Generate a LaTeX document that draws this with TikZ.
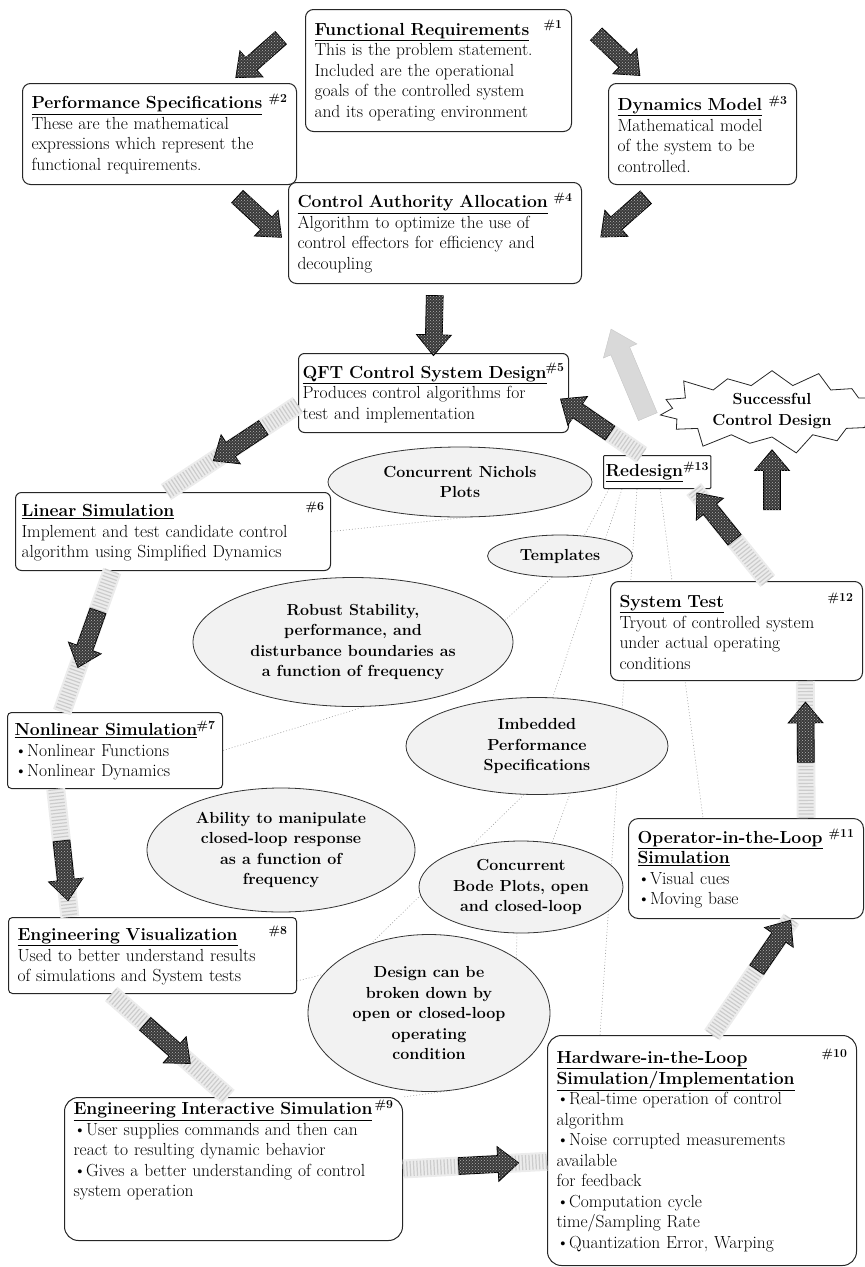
\documentclass[tikz,border=0pt]{standalone}
\usepackage{fontspec}
\usetikzlibrary{calc,shapes.geometric,shapes.arrows,shapes.symbols,patterns,backgrounds}
\newcommand*{\txtsize}{\fontsize{17.5}{20.5}\selectfont}
\newcommand*{\ovlsize}{\fontsize{16}{20.5}\selectfont\bfseries}
\newcommand*{\boxtitle}[2]{\underline{\textbf{#1}}\hfill\makebox[0pt][r]{\textsuperscript{\textbf{\##2}}}}
\tikzset{
  stage/.style={draw=black!85, line width=1pt, rounded corners=8pt, fill=white, anchor=north west,
    align=left, inner xsep=9pt, inner ysep=0pt, font=\txtsize},
  feature/.style={ellipse, draw=black!80, line width=0.8pt, fill=gray!10, inner sep=0pt, align=center, font=\ovlsize},
  burst/.style={starburst, starburst points=15, starburst point height=20pt, draw=black!85, line width=0.8pt,
    fill=white, minimum width=240pt, minimum height=92pt, align=center, font=\ovlsize, inner sep=0pt},
  blockarrow/.style={single arrow, draw=black, line width=0.8pt, fill=gray!45!black,
    postaction={pattern=crosshatch dots, pattern color=gray!60}, minimum height=60pt, minimum width=34pt,
    single arrow head extend=9pt, single arrow tip angle=80, inner xsep=0pt, inner ysep=8pt, sloped, allow upside down},
  exitarrow/.style={single arrow, draw=gray!45, fill=gray!30, minimum height=95pt, minimum width=36pt,
    single arrow head extend=8pt, single arrow tip angle=75, inner xsep=0pt, inner ysep=10pt},
  loopband/.style={draw=gray!15, line width=19pt, postaction={draw=gray!40, line width=15pt, dash pattern=on 1.2pt off 2.2pt}},
  relation/.style={draw=gray!70, line width=0.6pt, dash pattern=on 1pt off 2pt}
}

\begin{document}
\begin{tikzpicture}[x=1pt, y=-1pt]
    \useasboundingbox (0,0) rectangle (865,1267);
    % design steps
    \node[stage, text width=248pt, minimum height=122pt] (fr) at (305,9) {\boxtitle{Functional Requirements}{1}\\This is the problem statement.\\Included are the operational\\goals of the controlled system\\and its operating environment};
    \node[stage, text width=256pt, minimum height=101pt] (ps) at (22,83) {\boxtitle{Performance Specifications}{2}\\These are the mathematical\\expressions which represent the\\functional requirements.};
    \node[stage, text width=170pt, minimum height=101pt] (dm) at (608,83) {\boxtitle{Dynamics Model}{3}\\Mathematical model\\of the system to be\\controlled.};
    \node[stage, text width=275pt, minimum height=101pt] (caa) at (288,182) {\boxtitle{Control Authority Allocation}{4}\\Algorithm to optimize the use of\\control effectors for efficiency and\\decoupling};
    \node[stage, inner xsep=4pt, text width=262pt, minimum height=79pt, rounded corners=6pt] (qft) at (298,353) {\boxtitle{QFT Control System Design}{5}\\Produces control algorithms for\\test and implementation};
    \node[stage, inner xsep=6pt, text width=303pt, minimum height=78pt, rounded corners=6pt] (lin) at (15,492) {\boxtitle{Linear Simulation}{6}\\Implement and test candidate control\\algorithm using Simplified Dynamics};
    \node[stage, inner xsep=7pt, text width=201pt, minimum height=76pt, rounded corners=4pt] (nonlin) at (7,712) {\boxtitle{Nonlinear Simulation}{7}\\\textbullet Nonlinear Functions\\\textbullet Nonlinear Dynamics};
    \node[stage, text width=270pt, minimum height=76pt, rounded corners=4pt] (engvis) at (8,917) {\boxtitle{Engineering Visualization}{8}\\Used to better understand results\\of simulations and System tests};
    \node[stage, text width=320pt, minimum height=143pt, rounded corners=14pt] (enginter) at (64,1097) {\boxtitle{Engineering Interactive Simulation}{9}\\\textbullet User supplies commands and then can\\react to resulting dynamic behavior\\\textbullet Gives a better understanding of control\\system operation\\\mbox{}\\\mbox{}};
    \node[stage, text width=291pt, minimum height=230pt, rounded corners=14pt] (hardware) at (547,1035) {\boxtitle{Hardware-in-the-Loop}{10}\\\underline{\textbf{Simulation/Implementation}}\\\textbullet Real-time operation of control\\algorithm\\\textbullet Noise corrupted measurements\\available\\for feedback\\\textbullet Computation cycle\\time/Sampling Rate\\\textbullet Quantization Error, Warping};
    \node[stage, text width=217pt, minimum height=100pt, rounded corners=10pt] (operator) at (628,818) {\boxtitle{Operator-in-the-Loop}{11}\\\underline{\textbf{Simulation}}\\\textbullet Visual cues\\\textbullet Moving base};
    \node[stage, text width=234pt, minimum height=99pt] (systest) at (610,581) {\boxtitle{System Test}{12}\\Tryout of controlled system\\under actual operating\\conditions};
    \node[stage, inner xsep=2pt, align=center, minimum width=104pt, minimum height=33pt, rounded corners=1pt] (redesign) at (603,455) {\underline{\textbf{Redesign}}\textsuperscript{\textbf{\#13}}};
    % QFT features
    \node[feature, minimum width=264pt, minimum height=70pt] (nichols) at (460,482) {Concurrent Nichols\\Plots};
    \node[feature, minimum width=145pt, minimum height=42pt] (templates) at (560,556) {Templates};
    \node[feature, minimum width=320pt, minimum height=129pt] (robust) at (353,642) {Robust Stability,\\performance, and\\disturbance boundaries as\\a function of frequency};
    \node[feature, minimum width=262pt, minimum height=97pt] (imbedded) at (537,746) {Imbedded\\Performance\\Specifications};
    \node[feature, minimum width=268pt, minimum height=124pt] (ability) at (281,850) {Ability to manipulate\\closed-loop response\\as a function of\\frequency};
    \node[feature, minimum width=204pt, minimum height=92pt] (bode) at (521,887) {Concurrent\\Bode Plots, open\\and closed-loop};
    \node[feature, minimum width=242pt, minimum height=157pt] (design) at (429,1013) {Design can be\\broken down by\\open or closed-loop\\operating\\condition};
    \node[burst] (burst) at (772,411) {Successful\\Control Design};
    \node[exitarrow, rotate=112.8] (success) at (632,379) {};
    \begin{pgfonlayer}{background}
        \draw[relation] (lin.east) -- (nichols.280);
        \draw[relation] (nonlin.east) -- (robust.280);
        \draw[relation] (templates.250) -- (robust.8);
        \draw[relation] ([xshift=6pt]redesign.south west) -- (templates.40);
        \draw[relation] ([xshift=19pt]redesign.south west) -- (imbedded.72);
        \draw[relation] ([xshift=34pt]redesign.south west) -- ([xshift=53pt]hardware.north west);
        \draw[relation] ([xshift=57pt]redesign.south west) -- ([xshift=75pt]operator.north west);
        \draw[relation] (imbedded.305) -- (bode.55);
        \draw[relation] (imbedded.255) -- (design.130);
        \draw[relation] (bode.265) -- (design.32);
        \draw[relation] (engvis.-10) -- (design.160);
        \draw[relation] (design.285) -- (enginter.north east);
    \end{pgfonlayer}
    % requirements flow
    \path (fr.158) -- (ps.36) node[blockarrow, pos=.57] {};
    \path (fr.24) -- (dm.137) node[blockarrow, pos=.56] {};
    \path (ps.-38) -- (caa.184) node[blockarrow, pos=.49] {};
    \path (dm.230) -- (caa.-8) node[blockarrow, pos=.42] {};
    \path (caa.south) -- (qft.north) node[blockarrow, pos=.53] {};
    % design loop
    \draw[loopband] (qft.185) -- (lin.100) node[blockarrow, pos=.42] {};
    \draw[loopband] (lin.213) -- (nonlin.144) node[blockarrow, pos=.45] {};
    \draw[loopband] (nonlin.213) -- (engvis.155) node[blockarrow, pos=.6] {};
    \draw[loopband] (engvis.223) -- (enginter.94) node[blockarrow, pos=.45] {};
    \draw[loopband] (enginter.east) -- (hardware.184) node[blockarrow, pos=.56] {};
    \draw[loopband] (hardware.85) -- (operator.-48) node[blockarrow, pos=.74] {};
    \draw[loopband] (operator.40) -- (systest.-36) node[blockarrow, pos=.59] {};
    \draw[loopband] (systest.58) -- (redesign.-25) node[blockarrow, pos=.66] {};
    \draw[loopband] (redesign.132) -- (qft.-5) node[blockarrow, pos=.72] {};
    \path (burst.south |- systest.north) -- (burst.south) node[blockarrow, pos=.67] {};
\end{tikzpicture}
\end{document}
